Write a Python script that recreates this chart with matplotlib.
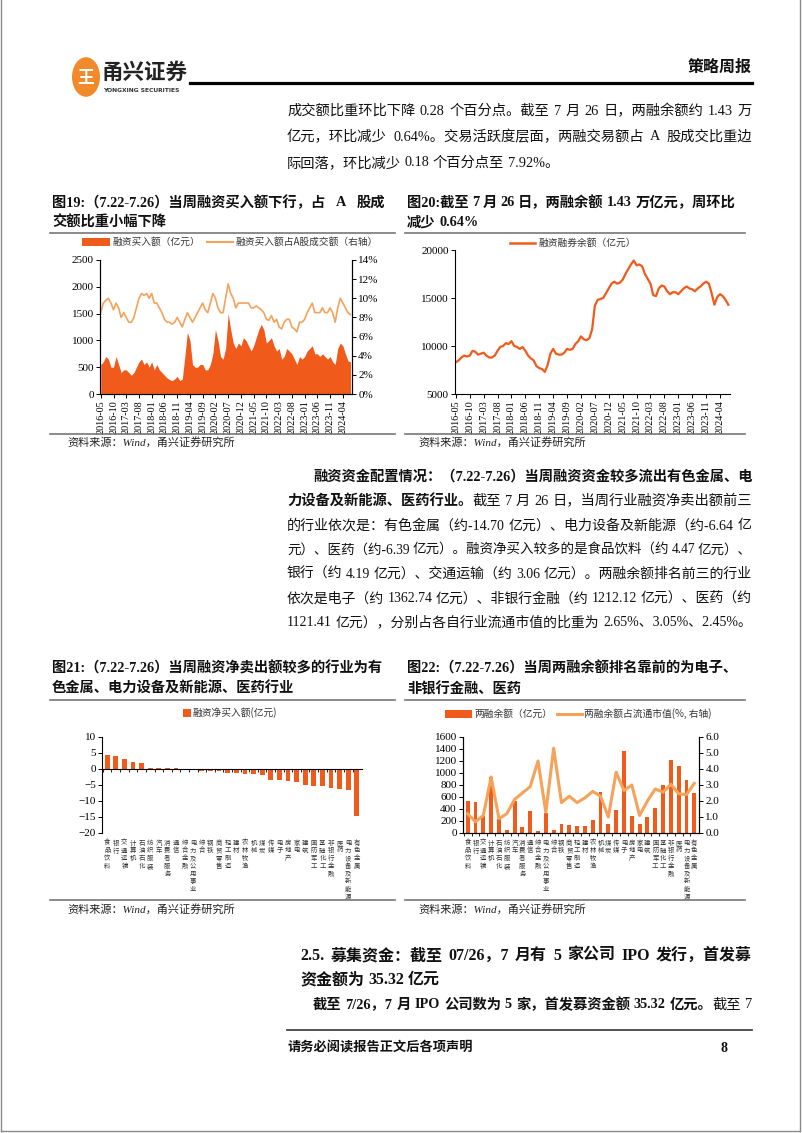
import matplotlib
matplotlib.use('Agg')
import matplotlib.pyplot as plt
import numpy as np
import pandas as pd
from matplotlib.patches import Rectangle, Circle
from matplotlib.lines import Line2D
from matplotlib.transforms import blended_transform_factory

# ---------------- data ----------------
months = pd.date_range('2016-05-01', '2024-07-01', freq='MS')

buy_amount = [550, 600, 700, 650, 500, 500, 700, 550,
              400, 450, 450, 400, 350, 400, 500, 600, 650, 550, 600, 500,
              600, 450, 550, 450, 400, 350, 300, 270, 250, 280, 330, 250,
              280, 700, 1150, 1000, 550, 500, 500, 550, 550, 450, 450, 550,
              750, 1200, 1000, 700, 650, 850, 1500, 1200, 950, 850, 950, 900,
              1050, 1000, 900, 800, 900, 1050, 1200, 1300, 1200, 950, 1000, 1050,
              900, 800, 850, 650, 700, 850, 800, 750, 650, 550, 700, 650,
              700, 800, 850, 900, 750, 750, 700, 750, 700, 650, 700, 600,
              550, 850, 950, 900, 750, 620, 600]

buy_ratio = [8.5, 9.5, 9.8, 10.0, 9.5, 8.8, 9.5, 9.0,
             8.0, 8.5, 8.0, 7.5, 7.5, 8.0, 9.0, 10.0, 10.5, 10.3, 10.5, 10.0,
             10.5, 9.5, 9.5, 9.0, 8.5, 7.8, 7.5, 7.5, 7.3, 7.5, 8.0, 7.5,
             7.0, 7.8, 8.5, 8.0, 7.5, 8.0, 8.5, 9.0, 9.5, 8.8, 8.5, 9.5,
             10.5, 10.0, 9.0, 8.5, 8.5, 10.0, 11.5, 10.5, 10.0, 9.0, 9.5, 9.5,
             9.5, 9.5, 9.5, 9.0, 9.0, 9.2, 9.0, 8.8, 8.5, 7.8, 7.7, 8.2,
             7.5, 7.8, 7.0, 6.8, 7.5, 7.8, 7.8, 7.0, 6.8, 6.5, 7.5, 7.5,
             7.8, 8.5, 9.0, 9.5, 8.5, 8.5, 8.5, 9.0, 8.5, 8.5, 9.0, 8.5,
             7.5, 9.0, 10.0, 9.5, 9.0, 8.5, 8.3]

margin_balance = [8300, 8500, 8800, 9000, 8900, 9000, 9500, 9400,
                  9100, 9200, 9300, 9000, 8800, 8800, 9000, 9500, 9900, 10000, 10300, 10200,
                  10500, 10000, 9900, 9700, 9900, 9500, 9000, 8700, 8500, 7900, 7700, 7600,
                  7300, 8000, 9200, 9700, 9200, 9100, 9100, 9300, 9700, 9600, 9700, 10200,
                  10500, 11000, 10700, 10600, 10800, 11700, 14200, 14800, 14900, 15000, 15500, 16000,
                  16500, 16700, 16500, 16600, 16900, 17500, 18000, 18500, 18900, 18400, 18500, 18300,
                  17500, 17000, 16500, 15300, 15200, 16000, 16300, 16200, 15700, 15400, 15600, 15600,
                  15400, 15700, 16000, 16200, 16000, 15900, 15700, 16000, 16200, 16500, 16700, 16500,
                  15500, 14300, 15100, 15400, 15200, 14800, 14300]

industries = ['食品饮料', '银行', '交通运输', '计算机', '石油石化', '纺织服装', '汽车',
              '消费者服务', '通信', '综合金融', '电力及公用事业', '综合', '钢铁', '商贸零售',
              '轻工制造', '建材', '农林牧渔', '机械', '煤炭', '传媒', '电子', '房地产', '家电',
              '建筑', '国防军工', '基础化工', '非银行金融', '医药', '电力设备及新能源', '有色金属']

net_buy = [4.47, 4.19, 3.06, 2.3, 1.8, 0.35, 0.35, 0.3, 0.2, -0.05, -0.3, -0.5, -0.5, -0.7,
           -1.3, -1.4, -1.6, -1.6, -2.0, -3.3, -3.5, -3.8, -4.2, -4.9, -5.2, -5.2, -5.8,
           -6.39, -6.64, -14.70]

balance_ind = [540, 525, 290, 940, 240, 50, 535, 100, 365, 30, 330, 45, 150, 140,
               110, 120, 220, 690, 150, 380, 1362.74, 290, 155, 270, 420, 800, 1212.12,
               1121.41, 880, 660]

balance_pct = [1.2, 0.7, 1.1, 3.5, 0.9, 1.2, 2.1, 2.5, 2.9, 4.5, 1.3, 5.3, 1.9, 2.3,
               1.9, 2.2, 2.6, 2.3, 1.0, 3.8, 2.65, 3.0, 1.1, 2.0, 2.75, 2.55, 3.05,
               2.45, 2.4, 3.1]

# ---------------- page ----------------
W, H = 802, 1133
fig = plt.figure(figsize=(W / 100, H / 100), dpi=100)
renderer = fig.canvas.get_renderer()

SERIF = ['Liberation Serif', 'Noto Sans CJK SC']
SANS = ['Noto Sans CJK SC', 'DejaVu Sans']
ORANGE = '#F05A1A'
LIGHT = '#F5A25A'
TXT = '#111111'


def fx(x):
    return x / W


def fy(y):
    return 1 - y / H


def hline(x0, x1, y, lw=1.0, color='black'):
    fig.add_artist(Line2D([fx(x0), fx(x1)], [fy(y), fy(y)], lw=lw, color=color,
                          transform=fig.transFigure))


def measure(tokens, size):
    ws = []
    for p, w, sp in tokens:
        t = fig.text(0, 0, p, fontsize=size, fontweight=w, family=SERIF)
        ws.append(t.get_window_extent(renderer=renderer).width)
        t.remove()
    return ws


def seg_line(x, y, segs, size=10.3, color=TXT, right=None):
    """Draw a line of text segments; if right is given, justify at the spaces."""
    tokens = []  # (text, weight, spaced_before)
    for s, w in segs:
        parts = s.split(' ')
        for k, p in enumerate(parts):
            if p == '':
                continue
            tokens.append([p, w, k > 0])
    n_gaps = sum(1 for tk in tokens[1:] if tk[2])
    widths = measure(tokens, size)
    if right is not None:
        for _ in range(6):
            space = size * 0.25 * 100 / 72
            need = sum(widths) + n_gaps * space * 0.8
            if need <= right - x + 0.5:
                break
            size *= (right - x) / need * 0.997
            widths = measure(tokens, size)
    space = size * 0.25 * 100 / 72
    if right is not None and n_gaps > 0:
        gap = max((right - x - sum(widths)) / n_gaps, space * 0.5)
    else:
        gap = space
    cur = x
    for i, (tk, wd) in enumerate(zip(tokens, widths)):
        if i > 0 and tk[2]:
            cur += gap
        fig.text(fx(cur), fy(y), tk[0], fontsize=size, fontweight=tk[1], family=SERIF,
                 va='center', ha='left', color=color)
        cur += wd


def axes_px(x0, y0, x1, y1):
    return fig.add_axes([fx(x0), fy(y1), (x1 - x0) / W, (y1 - y0) / H])


# page border
for xs, ys in [([1, 1], [0, 1131]), ([800, 800], [0, 1131]), ([1, 800], [1131, 1131])]:
    fig.add_artist(Line2D([fx(v) for v in xs], [fy(v) for v in ys], lw=1.0, color='#8a8a8a',
                          transform=fig.transFigure))

# header
fig.add_artist(Circle((fx(86), fy(77)), 14 / W, transform=fig.transFigure,
                      facecolor='#F08A2A', edgecolor='none'))
fig.text(fx(86), fy(77), '王', fontsize=12, fontweight='bold', color='white',
         family=SANS, ha='center', va='center')
fig.text(fx(102), fy(72), '甬兴证券', fontsize=15.5, fontweight='bold', color='#222222',
         family=SANS, ha='left', va='center')
fig.text(fx(103), fy(90), 'YONGXING SECURITIES', fontsize=4.3, fontweight='bold',
         color='#333333', family=['DejaVu Sans'], ha='left', va='center')
hline(190, 752, 83, lw=2.3)
fig.text(fx(752), fy(67), '策略周报', fontsize=11.5, fontweight='bold', color=TXT,
         family=SANS, ha='right', va='center')

# text block 1
seg_line(287, 111, [('成交额比重环比下降 0.28 个百分点。截至 7 月 26 日，两融余额约 1.43 万', 'normal')], right=752)
seg_line(287, 137, [('亿元，环比减少 0.64%。交易活跃度层面，两融交易额占 A 股成交比重边', 'normal')], right=752)
seg_line(287, 163, [('际回落，环比减少 0.18 个百分点至 7.92%。', 'normal')])

# chart titles
seg_line(52, 203, [('图19:（7.22-7.26）当周融资买入额下行，占 A 股成', 'bold')], right=385)
seg_line(52, 223, [('交额比重小幅下降', 'bold')])
seg_line(407, 203, [('图20:截至 7 月 26 日，两融余额 1.43 万亿元，周环比', 'bold')], right=735)
seg_line(407, 223, [('减少 0.64%', 'bold')])
hline(50, 395, 233, lw=1.2, color='#777777')
hline(405, 745, 233, lw=1.2, color='#777777')

# ---------- chart 19 ----------
x = np.arange(len(months))
tick_pos = x[::5]
tick_lab = [m.strftime('%Y-%m') for m in months[::5]]

ax1 = axes_px(100, 260, 352, 394)
ax1.fill_between(x, buy_amount, 0, color=ORANGE, linewidth=0)
ax1.set_ylim(0, 2500)
ax1.set_yticks(range(0, 2501, 500))
ax1.set_xlim(-0.3, 98.6)
ax1b = ax1.twinx()
ax1b.plot(x, buy_ratio, color=LIGHT, lw=1.2)
ax1b.set_ylim(0, 14)
ax1b.set_yticks(range(0, 15, 2))
ax1b.set_yticklabels([f'{v}%' for v in range(0, 15, 2)])
for a in (ax1, ax1b):
    a.set_xticks(tick_pos)
    a.set_xticklabels(tick_lab, rotation=90)
    a.spines['top'].set_visible(False)
    a.tick_params(axis='y', labelsize=8, length=3, width=0.7, pad=1.5)
    a.tick_params(axis='x', labelsize=7.3, length=3, width=0.7, pad=1.5)
    for lab in a.get_xticklabels() + a.get_yticklabels():
        lab.set_family(SERIF)
ax1.patch.set_alpha(0)

# legend chart 19
fig.add_artist(Rectangle((fx(82), fy(246)), 28 / W, 8 / H, transform=fig.transFigure,
                         facecolor=ORANGE, edgecolor='none'))
fig.text(fx(112), fy(242), '融资买入额（亿元）', fontsize=7, family=SANS, va='center', color='#333')
fig.add_artist(Line2D([fx(207), fx(233)], [fy(242), fy(242)], lw=1.5, color=LIGHT,
                      transform=fig.transFigure))
fig.text(fx(235), fy(242), '融资买入额占A股成交额（右轴）', fontsize=7, family=SANS,
         va='center', color='#333')

# ---------- chart 20 ----------
ax2 = axes_px(455, 250, 730, 394)
ax2.plot(x, margin_balance, color=ORANGE, lw=1.6)
ax2.set_ylim(5000, 20000)
ax2.set_yticks(range(5000, 20001, 5000))
ax2.set_xlim(-0.3, 98.6)
ax2.set_xticks(tick_pos)
ax2.set_xticklabels(tick_lab, rotation=90)
ax2.spines['top'].set_visible(False)
ax2.spines['right'].set_visible(False)
ax2.tick_params(axis='y', labelsize=8, length=3, width=0.7, pad=1.5)
ax2.tick_params(axis='x', labelsize=7.3, length=3, width=0.7, pad=1.5)
for lab in ax2.get_xticklabels() + ax2.get_yticklabels():
    lab.set_family(SERIF)
fig.add_artist(Line2D([fx(510), fx(535)], [fy(243), fy(243)], lw=1.8, color=ORANGE,
                      transform=fig.transFigure))
fig.text(fx(538), fy(243), '融资融券余额（亿元）', fontsize=7, family=SANS, va='center', color='#333')

# sources top
hline(50, 395, 434, lw=1.2, color='#777777')
hline(405, 745, 434, lw=1.2, color='#777777')
fig.text(fx(67), fy(442), '资料来源：Wind，甬兴证券研究所', fontsize=8, family=SERIF,
         style='italic', va='center', color='#222')
fig.text(fx(418), fy(442), '资料来源：Wind，甬兴证券研究所', fontsize=8, family=SERIF,
         style='italic', va='center', color='#222')

# text block 2
ys2 = [477 + 24.3 * i for i in range(7)]
seg_line(313, ys2[0], [('融资资金配置情况：（7.22-7.26）当周融资资金较多流出有色金属、电', 'bold')])
seg_line(287, ys2[1], [('力设备及新能源、医药行业。', 'bold'), ('截至 7 月 26 日，当周行业融资净卖出额前三', 'normal')], right=752)
seg_line(287, ys2[2], [('的行业依次是：有色金属（约-14.70 亿元）、电力设备及新能源（约-6.64 亿', 'normal')], right=752)
seg_line(287, ys2[3], [('元）、医药（约-6.39 亿元）。融资净买入较多的是食品饮料（约 4.47 亿元）、', 'normal')], right=752)
seg_line(287, ys2[4], [('银行（约 4.19 亿元）、交通运输（约 3.06 亿元）。两融余额排名前三的行业', 'normal')], right=752)
seg_line(287, ys2[5], [('依次是电子（约 1362.74 亿元）、非银行金融（约 1212.12 亿元）、医药（约', 'normal')], right=752)
seg_line(287, ys2[6], [('1121.41 亿元），分别占各自行业流通市值的比重为 2.65%、3.05%、2.45%。', 'normal')], right=752)

# bottom chart titles
seg_line(52, 668, [('图21:（7.22-7.26）当周融资净卖出额较多的行业为有', 'bold')])
seg_line(52, 689, [('色金属、电力设备及新能源、医药行业', 'bold')])
seg_line(407, 668, [('图22:（7.22-7.26）当周两融余额排名靠前的为电子、', 'bold')])
seg_line(407, 689, [('非银行金融、医药', 'bold')])
hline(50, 395, 700, lw=1.2, color='#777777')
hline(405, 745, 700, lw=1.2, color='#777777')

xi = np.arange(len(industries))


def vertical_labels(ax):
    tr = blended_transform_factory(ax.transData, ax.transAxes)
    for i, name in enumerate(industries):
        ax.text(i, -0.06, '\n'.join(name), transform=tr, ha='center', va='top',
                fontsize=4.6, family=SANS, linespacing=0.95, color='#333')


# ---------- chart 21 ----------
ax3 = axes_px(102, 737, 362, 833)
ax3.bar(xi, net_buy, width=0.55, color=ORANGE)
ax3.set_ylim(-20, 10)
ax3.set_yticks(range(-20, 11, 5))
ax3.set_xlim(-0.6, len(industries) - 0.4)
ax3.spines['top'].set_visible(False)
ax3.spines['right'].set_visible(False)
ax3.spines['bottom'].set_position(('data', 0))
ax3.set_xticks(xi - 0.5)
ax3.set_xticklabels([])
ax3.tick_params(axis='x', length=2, width=0.6)
ax3.tick_params(axis='y', labelsize=8, length=3, width=0.7, pad=1.5)
for lab in ax3.get_yticklabels():
    lab.set_family(SERIF)
vertical_labels(ax3)
fig.add_artist(Rectangle((fx(183), fy(717)), 8 / W, 8 / H, transform=fig.transFigure,
                         facecolor=ORANGE, edgecolor='none'))
fig.text(fx(192), fy(713), '融资净买入额(亿元)', fontsize=7, family=SANS, va='center', color='#333')

# ---------- chart 22 ----------
ax4 = axes_px(463, 737, 699, 833)
ax4.bar(xi, balance_ind, width=0.5, color=ORANGE)
ax4.set_ylim(0, 1600)
ax4.set_yticks(range(0, 1601, 200))
ax4.set_xlim(-0.6, len(industries) - 0.4)
ax4.spines['top'].set_visible(False)
ax4.set_xticks(xi - 0.5)
ax4.set_xticklabels([])
ax4.tick_params(axis='x', length=2, width=0.6)
ax4b = ax4.twinx()
ax4b.plot(xi, balance_pct, color=LIGHT, lw=2.2)
ax4b.set_ylim(0, 6)
ax4b.set_yticks(np.arange(0, 6.01, 1.0))
ax4b.set_yticklabels([f'{v:.1f}' for v in np.arange(0, 6.01, 1.0)])
ax4b.spines['top'].set_visible(False)
for a in (ax4, ax4b):
    a.tick_params(axis='y', labelsize=8, length=3, width=0.7, pad=1.5)
    for lab in a.get_yticklabels():
        lab.set_family(SERIF)
vertical_labels(ax4)
fig.add_artist(Rectangle((fx(445), fy(718)), 27 / W, 8 / H, transform=fig.transFigure,
                         facecolor=ORANGE, edgecolor='none'))
fig.text(fx(474), fy(714), '两融余额（亿元）', fontsize=7, family=SANS, va='center', color='#333')
fig.add_artist(Line2D([fx(557), fx(582)], [fy(714), fy(714)], lw=2.2, color=LIGHT,
                      transform=fig.transFigure))
fig.text(fx(584), fy(714), '两融余额占流通市值(%, 右轴)', fontsize=7, family=SANS,
         va='center', color='#333')

# sources bottom
hline(50, 395, 900, lw=1.2, color='#777777')
hline(405, 745, 900, lw=1.2, color='#777777')
fig.text(fx(67), fy(909), '资料来源：Wind，甬兴证券研究所', fontsize=8, family=SERIF,
         style='italic', va='center', color='#222')
fig.text(fx(418), fy(909), '资料来源：Wind，甬兴证券研究所', fontsize=8, family=SERIF,
         style='italic', va='center', color='#222')

# section 2.5
seg_line(300, 956, [('2.5. 募集资金：截至 07/26，7 月有 5 家公司 IPO 发行，首发募', 'bold')], size=11.5, right=752)
seg_line(300, 980, [('资金额为 35.32 亿元', 'bold')], size=11.5)
seg_line(313, 1005, [('截至 7/26，7 月 IPO 公司数为 5 家，首发募资金额 35.32 亿元。', 'bold'),
                     ('截至 7', 'normal')], right=752)

# footer
hline(287, 752, 1030, lw=1.3, color='#444444')
fig.text(fx(287), fy(1048), '请务必阅读报告正文后各项声明', fontsize=9.5, fontweight='bold',
         family=SERIF, va='center', color=TXT)
fig.text(fx(724), fy(1048), '8', fontsize=10, fontweight='bold', family=SERIF,
         va='center', ha='center', color=TXT)

fig.savefig('out.png', dpi=100)
